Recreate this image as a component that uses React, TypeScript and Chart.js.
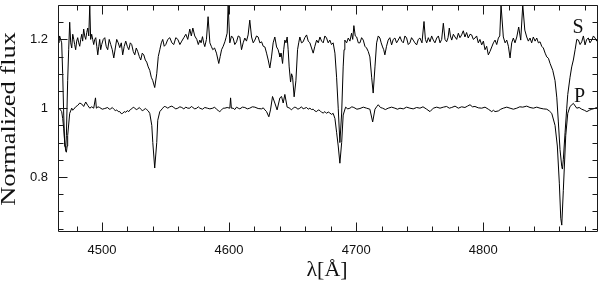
import React, { useEffect, useRef } from "react";
import { Chart, registerables } from "chart.js";

Chart.register(...registerables);

// ---- data: [wavelength Å, normalized flux] ----
const sSpectrum: [number, number][] = [
  [4465.4, 1.2], [4466.0, 1.19], [4466.7, 1.21], [4467.5, 1.2], [4468.3, 1.19],
  [4469.1, 1.1], [4469.9, 0.98], [4470.7, 0.89], [4471.5, 0.885], [4472.0, 0.92],
  [4473.0, 1.08], [4473.8, 1.17], [4474.6, 1.25], [4475.4, 1.19], [4476.2, 1.175],
  [4477.0, 1.215], [4477.8, 1.2], [4478.5, 1.185], [4479.3, 1.17], [4480.1, 1.195],
  [4480.9, 1.205], [4481.7, 1.19], [4482.5, 1.18], [4483.3, 1.2], [4484.1, 1.215],
  [4484.8, 1.195], [4485.6, 1.23], [4486.4, 1.21], [4487.2, 1.2], [4488.0, 1.22],
  [4488.8, 1.233], [4489.6, 1.21], [4490.4, 1.3], [4491.1, 1.2], [4491.9, 1.215],
  [4492.7, 1.2], [4493.5, 1.185], [4494.3, 1.2], [4495.1, 1.205], [4495.9, 1.18],
  [4496.7, 1.155], [4497.5, 1.18], [4498.2, 1.2], [4499.0, 1.17], [4499.8, 1.185],
  [4501.0, 1.2], [4502.2, 1.205], [4503.3, 1.18], [4504.5, 1.17], [4505.7, 1.2],
  [4506.9, 1.185], [4508.1, 1.17], [4509.3, 1.146], [4510.5, 1.175], [4511.6, 1.2],
  [4512.8, 1.19], [4514.0, 1.176], [4515.2, 1.19], [4516.3, 1.155], [4517.5, 1.18],
  [4518.7, 1.195], [4519.9, 1.18], [4521.1, 1.17], [4522.3, 1.19], [4523.4, 1.185],
  [4524.6, 1.165], [4525.8, 1.155], [4527.0, 1.175], [4528.2, 1.164], [4529.4, 1.15],
  [4530.5, 1.14], [4531.7, 1.16], [4532.9, 1.155], [4534.1, 1.14], [4535.2, 1.134],
  [4536.4, 1.12], [4537.6, 1.11], [4538.8, 1.09], [4540.0, 1.08], [4541.5, 1.06],
  [4543.1, 1.1], [4544.3, 1.15], [4545.5, 1.17], [4546.7, 1.19], [4547.8, 1.2],
  [4549.0, 1.18], [4550.2, 1.185], [4551.8, 1.2], [4553.4, 1.205], [4555.0, 1.19],
  [4556.5, 1.185], [4558.1, 1.205], [4559.7, 1.2], [4561.3, 1.185], [4562.8, 1.195],
  [4564.4, 1.205], [4566.0, 1.215], [4567.5, 1.2], [4569.1, 1.23], [4570.3, 1.21],
  [4571.5, 1.233], [4573.0, 1.21], [4574.6, 1.2], [4575.8, 1.185], [4577.0, 1.198],
  [4578.0, 1.19], [4579.1, 1.208], [4580.0, 1.19], [4580.9, 1.179], [4582.2, 1.2],
  [4583.5, 1.266], [4584.9, 1.19], [4586.0, 1.18], [4587.2, 1.17], [4588.6, 1.175],
  [4590.1, 1.16], [4591.9, 1.13], [4593.0, 1.15], [4594.1, 1.17], [4595.4, 1.18],
  [4596.7, 1.193], [4597.6, 1.205], [4598.5, 1.218], [4599.3, 1.3], [4600.6, 1.19],
  [4601.9, 1.21], [4603.2, 1.204], [4604.5, 1.185], [4605.9, 1.193], [4607.2, 1.21],
  [4608.5, 1.207], [4609.8, 1.17], [4611.1, 1.19], [4612.4, 1.204], [4613.7, 1.195],
  [4615.0, 1.213], [4616.3, 1.256], [4617.7, 1.207], [4619.0, 1.19], [4620.3, 1.198],
  [4621.6, 1.21], [4622.9, 1.207], [4624.2, 1.19], [4625.6, 1.193], [4626.9, 1.18],
  [4628.2, 1.178], [4629.5, 1.16], [4630.8, 1.14], [4632.1, 1.117], [4633.4, 1.149],
  [4634.7, 1.19], [4636.0, 1.207], [4637.4, 1.178], [4638.6, 1.17], [4639.3, 1.16],
  [4640.0, 1.149], [4641.0, 1.16], [4642.1, 1.13], [4643.0, 1.17], [4643.9, 1.198],
  [4644.8, 1.19], [4645.7, 1.207], [4646.5, 1.17], [4647.3, 1.12], [4648.4, 1.076],
  [4649.2, 1.1], [4650.0, 1.09], [4651.2, 1.033], [4652.6, 1.08], [4653.9, 1.17],
  [4654.8, 1.19], [4655.7, 1.207], [4657.0, 1.19], [4658.3, 1.193], [4659.6, 1.205],
  [4661.0, 1.213], [4662.3, 1.195], [4663.6, 1.19], [4664.9, 1.175], [4666.2, 1.16],
  [4667.5, 1.18], [4668.9, 1.198], [4670.2, 1.19], [4671.5, 1.207], [4672.8, 1.195],
  [4674.1, 1.19], [4675.4, 1.21], [4676.7, 1.204], [4678.0, 1.19], [4679.3, 1.198],
  [4680.6, 1.185], [4681.9, 1.19], [4683.3, 1.16], [4684.6, 1.09], [4685.9, 1.0],
  [4687.2, 0.9], [4688.6, 0.986], [4689.8, 1.12], [4690.5, 1.17], [4691.1, 1.198],
  [4692.5, 1.19], [4693.8, 1.204], [4695.1, 1.195], [4696.4, 1.218], [4697.3, 1.2],
  [4698.2, 1.24], [4699.3, 1.21], [4700.4, 1.207], [4701.7, 1.19], [4703.0, 1.19],
  [4704.3, 1.205], [4705.6, 1.198], [4706.9, 1.18], [4708.2, 1.175], [4709.5, 1.165],
  [4710.8, 1.149], [4712.2, 1.09], [4713.4, 1.044], [4714.8, 1.12], [4716.1, 1.19],
  [4717.4, 1.21], [4718.7, 1.204], [4719.7, 1.19], [4720.8, 1.178], [4721.7, 1.17],
  [4722.6, 1.155], [4723.9, 1.18], [4725.2, 1.198], [4726.5, 1.205], [4727.9, 1.184],
  [4729.2, 1.2], [4730.5, 1.204], [4731.8, 1.19], [4733.1, 1.198], [4734.5, 1.208],
  [4735.8, 1.195], [4737.1, 1.19], [4738.4, 1.21], [4739.7, 1.204], [4741.0, 1.185],
  [4742.3, 1.19], [4743.6, 1.205], [4744.9, 1.198], [4746.2, 1.19], [4747.6, 1.184],
  [4748.9, 1.2], [4750.2, 1.204], [4751.8, 1.19], [4753.4, 1.252], [4754.5, 1.2],
  [4755.5, 1.19], [4756.8, 1.205], [4758.1, 1.193], [4759.4, 1.21], [4760.7, 1.198],
  [4762.0, 1.19], [4763.4, 1.204], [4764.7, 1.21], [4766.0, 1.19], [4767.3, 1.2],
  [4768.6, 1.247], [4769.9, 1.2], [4771.2, 1.193], [4772.3, 1.205], [4773.3, 1.233],
  [4774.2, 1.21], [4775.2, 1.198], [4776.5, 1.215], [4777.8, 1.207], [4779.1, 1.2],
  [4780.4, 1.218], [4781.7, 1.205], [4783.0, 1.213], [4784.3, 1.225], [4785.6, 1.207],
  [4786.9, 1.22], [4788.2, 1.204], [4789.6, 1.215], [4790.9, 1.213], [4792.2, 1.2],
  [4793.5, 1.204], [4794.8, 1.21], [4796.1, 1.19], [4797.4, 1.2], [4798.8, 1.184],
  [4800.1, 1.195], [4801.4, 1.17], [4802.7, 1.18], [4804.0, 1.155], [4805.3, 1.165],
  [4806.7, 1.178], [4808.0, 1.19], [4809.3, 1.198], [4810.6, 1.185], [4811.9, 1.204],
  [4813.0, 1.21], [4814.0, 1.3], [4815.8, 1.207], [4817.2, 1.19], [4818.5, 1.198],
  [4819.8, 1.18], [4821.1, 1.146], [4822.4, 1.19], [4823.7, 1.204], [4825.0, 1.19],
  [4826.4, 1.207], [4827.9, 1.236], [4829.5, 1.198], [4831.1, 1.3], [4832.7, 1.227],
  [4834.2, 1.207], [4835.5, 1.195], [4836.8, 1.204], [4838.1, 1.19], [4839.4, 1.207],
  [4840.8, 1.195], [4842.1, 1.204], [4843.4, 1.19], [4844.7, 1.193], [4846.0, 1.18],
  [4847.3, 1.175], [4848.7, 1.16], [4850.0, 1.149], [4851.3, 1.145], [4852.6, 1.13],
  [4854.7, 1.11], [4856.5, 1.08], [4857.9, 1.03], [4859.1, 0.96], [4860.4, 0.88],
  [4861.8, 0.83], [4862.3, 0.823], [4863.0, 0.85], [4864.4, 0.93], [4865.7, 1.0],
  [4866.5, 1.04], [4868.3, 1.09], [4869.6, 1.12], [4870.9, 1.14], [4872.3, 1.17],
  [4873.6, 1.2], [4874.9, 1.198], [4876.2, 1.185], [4877.5, 1.193], [4878.8, 1.21],
  [4880.1, 1.184], [4881.4, 1.2], [4882.7, 1.204], [4884.0, 1.19], [4885.4, 1.198],
  [4886.7, 1.21], [4888.0, 1.204], [4889.3, 1.195], [4890.6, 1.208],
];

const pSpectrum: [number, number][] = [
  [4465.4, 1.0], [4466.7, 0.998], [4468.3, 0.99], [4469.1, 0.97], [4469.9, 0.94],
  [4470.7, 0.9], [4471.5, 0.875], [4472.0, 0.872], [4472.6, 0.89], [4473.0, 0.92],
  [4474.6, 0.985], [4476.2, 1.0], [4477.0, 0.994], [4477.8, 0.997], [4479.3, 1.004],
  [4480.9, 1.008], [4482.5, 1.015], [4484.1, 1.012], [4485.6, 1.005], [4487.2, 1.018],
  [4488.8, 1.008], [4490.4, 1.0], [4491.9, 1.004], [4493.5, 1.0], [4494.9, 1.03],
  [4495.6, 1.0], [4496.9, 1.004], [4498.2, 1.002], [4500.2, 0.997], [4502.2, 0.999],
  [4504.5, 1.002], [4505.7, 0.997], [4506.9, 0.998], [4508.1, 1.002], [4509.3, 0.997],
  [4510.5, 0.993], [4511.6, 0.995], [4512.8, 0.99], [4514.0, 0.99], [4515.2, 0.984],
  [4516.3, 0.985], [4517.5, 0.99], [4518.7, 0.988], [4519.9, 0.993], [4521.1, 0.99],
  [4522.3, 0.996], [4523.4, 0.998], [4524.6, 1.003], [4525.8, 1.0], [4527.0, 0.996],
  [4528.2, 0.998], [4529.4, 1.002], [4530.5, 0.997], [4531.7, 0.993], [4532.9, 0.995],
  [4534.1, 0.999], [4535.2, 0.996], [4536.4, 0.992], [4537.6, 0.985], [4539.2, 0.95],
  [4540.0, 0.9], [4541.5, 0.826], [4543.1, 0.9], [4543.9, 0.965], [4545.5, 0.99],
  [4547.8, 1.0], [4549.0, 1.005], [4550.2, 1.004], [4551.8, 1.0], [4553.4, 1.004],
  [4555.0, 1.006], [4556.5, 1.002], [4558.1, 0.998], [4559.7, 1.0], [4561.3, 1.004],
  [4562.8, 1.002], [4564.4, 0.998], [4566.0, 1.003], [4567.5, 1.0], [4569.1, 1.0],
  [4570.3, 1.005], [4571.5, 1.002], [4573.0, 0.998], [4574.6, 1.0], [4575.8, 1.004],
  [4577.0, 1.0], [4579.1, 0.997], [4580.9, 1.002], [4582.9, 1.0], [4584.9, 0.998],
  [4587.2, 1.0], [4588.6, 1.003], [4590.1, 0.997], [4591.5, 0.993], [4592.7, 0.99],
  [4594.1, 0.995], [4595.4, 1.0], [4596.7, 1.0], [4598.5, 1.002], [4600.6, 1.0],
  [4601.2, 1.03], [4601.8, 1.0], [4603.2, 1.0], [4604.5, 0.996], [4605.9, 1.003],
  [4607.2, 1.0], [4608.5, 0.998], [4610.5, 1.003], [4612.4, 1.002], [4614.4, 0.998],
  [4616.3, 1.0], [4618.3, 1.004], [4620.3, 1.003], [4622.9, 0.999], [4625.6, 0.998],
  [4626.9, 1.001], [4628.2, 0.995], [4629.5, 0.99], [4631.3, 0.975], [4632.6, 0.995],
  [4634.2, 1.034], [4636.0, 1.015], [4637.8, 0.995], [4640.0, 1.03], [4641.3, 1.034],
  [4642.6, 1.015], [4643.9, 1.04], [4645.7, 1.003], [4647.8, 1.0], [4649.0, 0.995],
  [4650.0, 0.998], [4651.3, 1.003], [4652.6, 1.002], [4654.2, 0.997], [4655.7, 1.0],
  [4657.0, 1.004], [4658.3, 0.998], [4659.6, 1.0], [4661.0, 1.002], [4662.3, 0.997],
  [4663.6, 1.0], [4664.9, 0.996], [4666.2, 0.997], [4667.5, 0.992], [4668.9, 0.99],
  [4670.2, 0.995], [4671.5, 0.993], [4672.8, 0.988], [4674.1, 0.986], [4675.4, 0.99],
  [4676.7, 0.985], [4678.0, 0.989], [4679.3, 0.986], [4680.6, 0.982], [4681.9, 0.985],
  [4683.3, 0.97], [4684.6, 0.93], [4685.9, 0.89], [4687.2, 0.84], [4688.6, 0.9],
  [4689.8, 0.98], [4691.7, 1.003], [4693.4, 0.998], [4695.1, 1.0], [4696.6, 1.004],
  [4698.2, 1.002], [4700.6, 0.997], [4703.0, 0.999], [4705.6, 1.003], [4708.2, 1.0],
  [4710.8, 0.997], [4713.0, 0.96], [4714.8, 0.997], [4716.1, 1.004], [4717.4, 1.01],
  [4719.1, 1.002], [4720.8, 1.0], [4723.0, 0.996], [4725.2, 1.0], [4727.9, 1.003],
  [4730.5, 1.0], [4732.5, 0.997], [4734.5, 1.0], [4737.1, 0.998], [4739.7, 1.003],
  [4742.3, 1.0], [4744.9, 0.998], [4747.6, 1.002], [4750.2, 1.0], [4752.6, 1.004],
  [4755.5, 0.997], [4758.1, 0.99], [4760.7, 1.0], [4763.4, 1.003], [4766.0, 1.0],
  [4768.6, 1.003], [4771.2, 1.005], [4773.3, 1.0], [4775.2, 1.002], [4777.8, 1.006],
  [4780.4, 1.0], [4783.0, 1.004], [4785.6, 1.002], [4787.6, 1.006], [4789.6, 1.01],
  [4791.5, 1.004], [4793.5, 1.005], [4796.1, 1.001], [4798.8, 1.0], [4801.4, 1.003],
  [4804.0, 0.997], [4806.7, 0.99], [4808.0, 0.994], [4809.3, 0.99], [4811.9, 0.992],
  [4813.8, 0.997], [4815.8, 1.0], [4818.5, 1.003], [4821.1, 1.0], [4823.7, 0.997],
  [4826.4, 1.0], [4828.8, 1.004], [4831.1, 1.003], [4834.2, 1.006], [4836.8, 1.002],
  [4839.4, 1.0], [4842.1, 1.003], [4844.7, 1.0], [4847.3, 0.998], [4850.0, 0.997],
  [4852.0, 0.992], [4853.9, 0.985], [4856.5, 0.95], [4858.3, 0.89], [4859.9, 0.78],
  [4861.0, 0.68], [4861.8, 0.66], [4863.0, 0.76], [4864.9, 0.92], [4866.5, 0.985],
  [4868.3, 1.005], [4870.9, 1.014], [4873.6, 1.0], [4875.5, 1.002], [4877.5, 0.997],
  [4879.5, 0.994], [4881.5, 0.99], [4883.5, 0.994], [4885.4, 0.997], [4887.4, 0.999],
  [4889.3, 1.002], [4890.6, 1.003],
];

const seriesNames = ["S", "P"];
const xMajorTicks = [4500, 4600, 4700, 4800];
const yMajorTicks = [0.8, 1, 1.2];
const xMin = 4465.4;
const xMax = 4890.3;
const yMin = 0.64;
const yMax = 1.3;
const xTitle = "λ[Å]";
const yTitle = "Normalized flux";

const INK = "#111";

const framePlugin = {
  id: "frameTicks",
  afterDraw(chart: any) {
    const { ctx, chartArea: a, scales } = chart;
    const xs = scales.x;
    const ys = scales.y;
    const L = Math.round(a.left) + 0.5;
    const R = Math.round(a.right) - 0.5;
    const T = Math.round(a.top) + 0.5;
    const B = Math.round(a.bottom) - 0.5;
    ctx.save();
    ctx.strokeStyle = "#1a1a1a";
    ctx.lineWidth = 1;
    ctx.beginPath();
    ctx.rect(L, T, R - L, B - T);
    for (let v = Math.ceil(xMin / 20) * 20; v <= xMax; v += 20) {
      const px = Math.round(xs.getPixelForValue(v)) + 0.5;
      const len = xMajorTicks.includes(v) ? 9 : 5;
      ctx.moveTo(px, B);
      ctx.lineTo(px, B - len);
      ctx.moveTo(px, T);
      ctx.lineTo(px, T + len);
    }
    for (let i = Math.ceil(yMin / 0.05); i * 0.05 <= yMax + 1e-9; i++) {
      const v = Math.round(i * 5) / 100;
      const py = Math.round(ys.getPixelForValue(v)) + 0.5;
      const len = yMajorTicks.some((m) => Math.abs(m - v) < 1e-6) ? 9 : 5;
      ctx.moveTo(L, py);
      ctx.lineTo(L + len, py);
      ctx.moveTo(R, py);
      ctx.lineTo(R - len, py);
    }
    ctx.stroke();

    ctx.fillStyle = INK;
    ctx.font = '20px "Liberation Serif"';
    ctx.textAlign = "center";
    ctx.textBaseline = "alphabetic";
    ctx.fillText(seriesNames[0], 578, 33);
    ctx.fillText(seriesNames[1], 579.5, 102);

    ctx.save();
    ctx.translate(327, 276);
    ctx.scale(1.1, 1);
    ctx.fillText(xTitle, 0, 0);
    ctx.restore();

    ctx.save();
    ctx.translate(15, 119);
    ctx.rotate(-Math.PI / 2);
    ctx.scale(1.32, 1);
    ctx.fillText(yTitle, 0, 0);
    ctx.restore();

    ctx.restore();
  },
};

export default function App() {
  const ref = useRef<HTMLCanvasElement | null>(null);
  useEffect(() => {
    document.body.style.margin = "0";
    const canvas = ref.current;
    if (!canvas) return;
    const tickFont = { family: '"Liberation Sans", Arial, sans-serif', size: 13 };
    const line = {
      showLine: true,
      borderColor: "#000",
      borderWidth: 1,
      pointRadius: 0,
      tension: 0,
    };
    const chart = new Chart(canvas, {
      type: "scatter",
      data: {
        datasets: [
          { label: seriesNames[0], data: sSpectrum.map(([x, y]) => ({ x, y })), ...line },
          { label: seriesNames[1], data: pSpectrum.map(([x, y]) => ({ x, y })), ...line },
        ],
      },
      options: {
        responsive: false,
        animation: false,
        devicePixelRatio: 1,
        events: [],
        layout: { padding: { top: 5, right: 2, left: 0, bottom: 0 } },
        plugins: { legend: { display: false }, tooltip: { enabled: false } },
        scales: {
          x: {
            type: "linear",
            min: xMin,
            max: xMax,
            grid: { display: false, drawTicks: false },
            border: { display: false },
            ticks: {
              autoSkip: false,
              maxRotation: 0,
              padding: 11,
              color: INK,
              font: tickFont,
              callback: (v: any) => String(v),
            },
            afterBuildTicks: (s: any) => {
              s.ticks = xMajorTicks.map((v) => ({ value: v }));
            },
            afterFit: (s: any) => {
              s.height = 57;
              s.paddingLeft = 0;
              s.paddingRight = 0;
            },
          },
          y: {
            type: "linear",
            min: yMin,
            max: yMax,
            grid: { display: false, drawTicks: false },
            border: { display: false },
            ticks: {
              autoSkip: false,
              padding: 10,
              color: INK,
              font: tickFont,
              callback: (v: any) => String(v),
            },
            afterBuildTicks: (s: any) => {
              s.ticks = yMajorTicks.map((v) => ({ value: v }));
            },
            afterFit: (s: any) => {
              s.width = 58;
              s.paddingTop = 0;
              s.paddingBottom = 0;
            },
          },
        },
      },
      plugins: [framePlugin],
    } as any);
    return () => chart.destroy();
  }, []);
  return (
    <div style={{ width: 600, height: 289 }}>
      <canvas ref={ref} width={600} height={289} style={{ display: "block" }} />
    </div>
  );
}
